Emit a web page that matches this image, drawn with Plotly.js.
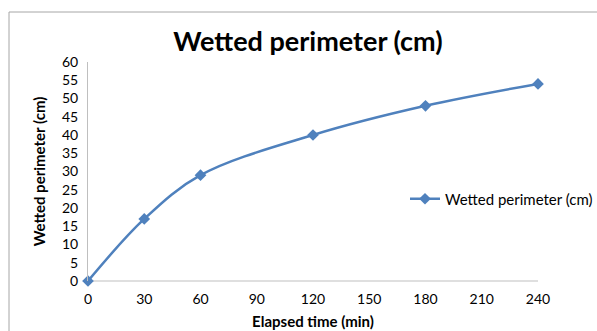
<!DOCTYPE html>
<html><head><meta charset="utf-8">
<script src="https://cdn.plot.ly/plotly-3.0.1.min.js"></script>
<style>html,body{margin:0;padding:0;background:#fff;}#c{width:597px;height:331px;}</style>
</head><body><div id="c"></div>
<script>
const elapsedTime = [0, 30, 60, 120, 180, 240];
const wettedPerimeter = [0, 17, 29, 40, 48, 54];
const seriesName = "Wetted perimeter (cm)";
const xTicks = [0, 30, 60, 90, 120, 150, 180, 210, 240];
const yTicks = [0, 5, 10, 15, 20, 25, 30, 35, 40, 45, 50, 55, 60];

const L = 88, R = 59, T = 62, B = 50, W = 597, H = 331;
const pw = W - L - R, ph = H - T - B;
const px = v => (v - L) / pw;
const py = v => (H - B - v) / ph;
const font = "Lato, 'Open Sans', sans-serif";

Plotly.newPlot('c', [{
  x: elapsedTime, y: wettedPerimeter, name: seriesName,
  type: 'scatter', mode: 'lines+markers', cliponaxis: false,
  line: {color: '#4F81BD', width: 2.5, shape: 'spline', smoothing: 1},
  marker: {symbol: 'diamond', size: 9, color: '#4F81BD'}
}], {
  width: W, height: H,
  margin: {l: L, r: R, t: T, b: B, pad: 0, autoexpand: false},
  paper_bgcolor: '#fff', plot_bgcolor: '#fff',
  font: {family: font, color: '#000', size: 14},
  title: {text: '<b>Wetted perimeter (cm)</b>', font: {size: 27, family: font, color: '#000'},
          x: px(308), xref: 'paper', xanchor: 'center', y: (H - 42) / H, yanchor: 'middle'},
  xaxis: {range: [0, 240], tickvals: xTicks, showgrid: false, zeroline: false,
          showline: false, ticks: '', tickfont: {size: 14}, ticklabelstandoff: 8,
          title: {text: '<b>Elapsed time (min)</b>', font: {size: 15}, standoff: 10}},
  yaxis: {range: [0, 60], tickvals: yTicks, showgrid: false, zeroline: false,
          showline: true, linecolor: '#BFBFBF', linewidth: 1, ticks: '', tickfont: {size: 14},
          ticklabelstandoff: 6,
          title: {text: '<b>Wetted perimeter (cm)</b>', font: {size: 15}, standoff: 12}},
  shapes: [
    {type: 'line', xref: 'paper', yref: 'paper', x0: 0, x1: 1, y0: 0, y1: 0,
     line: {color: '#BFBFBF', width: 1}, layer: 'below'},
    {type: 'rect', xref: 'paper', yref: 'paper', x0: px(9), x1: px(605), y0: py(340), y1: py(12),
     line: {color: '#A6A6A6', width: 1}, layer: 'below'}
  ],
  showlegend: true,
  legend: {x: px(405), y: py(199), xanchor: 'left', yanchor: 'middle', bgcolor: 'rgba(0,0,0,0)',
           font: {size: 15}, itemwidth: 30}
}, {displayModeBar: false, staticPlot: true});
</script></body></html>
